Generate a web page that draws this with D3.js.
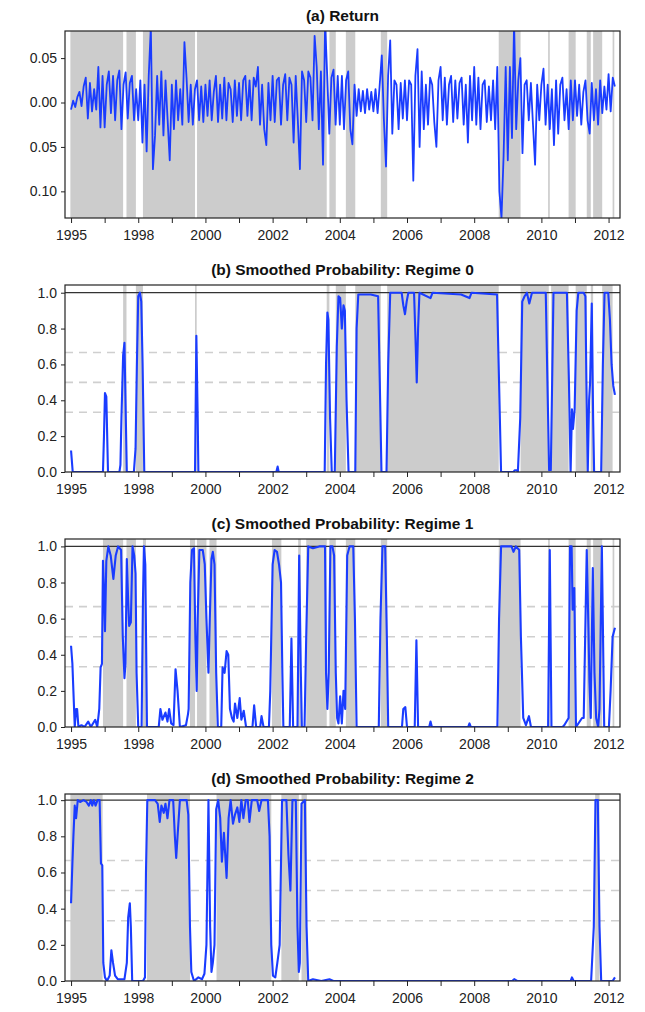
<!DOCTYPE html>
<html>
<head>
<meta charset="utf-8">
<script src="https://cdn.jsdelivr.net/npm/d3@7"></script>
<style>
  body { margin: 0; background: #fff; }
  svg { display: block; font-family: "Liberation Sans", Arial, sans-serif; }
</style>
</head>
<body>
<svg id="chart" width="645" height="1012"></svg>
<script>
// ---- x axis (decimal years) ----
var tickYears = d3.range(1996, 2013);
var labelYears = [1996, 1998, 2000, 2002, 2004, 2006, 2008, 2010, 2012];
var labelTexts = ["1995", "1998", "2000", "2002", "2004", "2006", "2008", "2010", "2012"];

// ---- panel (a) weekly-ish return, sampled every 1/16 year from 1996 ----
var retStart = 1996;
var retStep = 1 / 16;
var returns = [
  -0.008, 0.002, -0.005, 0.006, 0.012, -0.004, 0.018, 0.028, -0.018, 0.022, -0.01, 0.015, -0.008, 0.04, -0.028, 0.03,
  -0.028, 0.02, 0.035, -0.012, 0.03, -0.02, 0.025, 0.036, -0.03, 0.02, 0.034, -0.018, 0.022, 0.03, -0.02, 0.015,
  -0.02, 0.025, -0.045, 0.02, -0.055, 0.03, 0.085, -0.075, -0.037, 0.03, -0.025, 0.035, -0.037, 0.025, -0.02, -0.065,
  0.02, -0.03, 0.025, -0.02, 0.015, -0.025, 0.068, 0.028, -0.022, 0.02, -0.025, 0.015, 0.025, -0.02, 0.018, -0.022,
  0.02, -0.015, 0.025, -0.02, 0.012, 0.03, -0.022, 0.02, -0.018, 0.028, -0.02, 0.022, 0.015, -0.022, 0.025, -0.015,
  0.022, -0.02, 0.025, 0.03, -0.015, 0.025, -0.02, 0.028, 0.018, 0.04, -0.025, 0.02, -0.03, -0.048, 0.022, -0.02,
  0.03, -0.022, 0.025, 0.028, -0.025, 0.02, 0.032, -0.02, 0.028, 0.02, -0.045, 0.03, -0.02, -0.075, 0.035, 0.025,
  -0.022, 0.035, 0.028, -0.02, 0.075, 0.04, -0.03, 0.035, -0.07, 0.09, 0.03, -0.035, 0.028, 0.037, -0.025, 0.03,
  -0.025, 0.03, -0.03, 0.025, 0.035, -0.03, -0.047, 0.02, -0.015, 0.015, -0.01, 0.013, -0.012, 0.015, -0.008, 0.012,
  -0.01, 0.015, -0.012, 0.02, 0.053, -0.02, -0.072, 0.03, 0.07, -0.035, 0.025, 0.02, -0.03, 0.022, -0.018, 0.025,
  -0.02, 0.025, 0.02, -0.088, 0.03, 0.06, -0.05, 0.035, -0.03, 0.02, -0.025, 0.028, 0.02, -0.022, -0.05, 0.025,
  0.04, -0.02, 0.028, -0.025, 0.02, 0.03, -0.022, 0.025, -0.018, 0.022, 0.028, -0.025, 0.02, -0.045, 0.03, -0.02,
  0.04, -0.025, 0.028, -0.03, 0.02, 0.025, -0.022, 0.018, -0.02, 0.025, -0.03, 0.04, -0.1, -0.13, -0.06, 0.04,
  -0.065, 0.04, -0.04, 0.09, -0.03, 0.025, 0.05, -0.057, 0.02, 0.025, -0.02, 0.022, -0.025, -0.07, 0.02, -0.02,
  0.02, 0.038, -0.025, 0.02, -0.03, 0.015, -0.048, 0.025, -0.035, 0.02, 0.028, -0.02, 0.015, -0.03, 0.025, -0.02,
  0.025, -0.015, 0.02, -0.025, 0.012, 0.025, -0.02, -0.035, 0.022, -0.02, 0.015, -0.025, 0.025, -0.012, 0.018, -0.008,
  0.032, -0.01, 0.028, 0.018
];
var retTicks = [0.05, 0, -0.05, -0.10];

// ---- shaded regime periods [from, to] per panel ----
var bandsA = [[1995.98, 1997.55], [1997.65, 1997.93], [1998.14, 1999.69], [1999.75, 2003.61], [2003.69, 2003.88],
  [2004.18, 2004.46], [2005.22, 2005.41], [2008.73, 2009.38], [2010.20, 2010.25], [2010.81, 2011.02],
  [2011.35, 2011.47], [2011.54, 2011.81], [2012.12, 2012.17]];
var bandsB = [[1997.55, 1997.65], [1997.93, 1998.14], [1999.69, 1999.74], [2003.61, 2003.69], [2003.88, 2004.18],
  [2004.46, 2005.22], [2005.41, 2008.73], [2009.38, 2010.22], [2010.29, 2010.81], [2011.02, 2011.35],
  [2011.47, 2011.54], [2011.81, 2012.12]];
var bandsC = [[1996.95, 1997.55], [1997.65, 1997.93], [1998.14, 1998.23], [1999.54, 1999.69], [1999.75, 2000.03],
  [2000.12, 2000.33], [2001.98, 2002.26], [2002.76, 2002.84], [2003.0, 2003.61], [2003.69, 2003.88],
  [2004.18, 2004.46], [2005.22, 2005.41], [2008.73, 2009.38], [2010.20, 2010.25], [2010.81, 2011.02],
  [2011.35, 2011.47], [2011.54, 2011.81], [2012.12, 2012.17]];
var bandsD = [[1995.98, 1996.94], [1998.26, 1999.54], [2000.33, 2001.96], [2002.26, 2002.78], [2002.86, 2003.02],
  [2011.60, 2011.73]];

// ---- smoothed probabilities [year, p] ----
var prob0 = [[1996.0, 0.12], [1996.05, 0], [1996.95, 0], [1996.98, 0.2], [1997.01, 0.44], [1997.05, 0.42], [1997.10, 0],
  [1997.44, 0], [1997.47, 0.04], [1997.50, 0.3], [1997.55, 0.65], [1997.59, 0.72], [1997.63, 0.3], [1997.66, 0],
  [1997.87, 0], [1997.92, 0.13], [1997.96, 0.6], [1998.0, 0.98], [1998.05, 1.0], [1998.09, 0.95], [1998.13, 0.6],
  [1998.18, 0], [1999.69, 0], [1999.73, 0.76], [1999.77, 0.3], [1999.79, 0], [2002.11, 0], [2002.15, 0.03],
  [2002.18, 0], [2003.55, 0], [2003.59, 0.6], [2003.63, 0.89], [2003.66, 0.85], [2003.71, 0.3], [2003.76, 0],
  [2003.85, 0], [2003.91, 0.7], [2003.96, 0.98], [2004.01, 0.97], [2004.06, 0.8], [2004.11, 0.93], [2004.15, 0.9],
  [2004.20, 0.4], [2004.26, 0], [2004.46, 0], [2004.50, 0.8], [2004.55, 0.99], [2004.92, 0.99], [2005.14, 0.98],
  [2005.19, 0.5], [2005.24, 0], [2005.39, 0], [2005.44, 0.6], [2005.50, 1.0], [2005.84, 1.0], [2005.89, 0.93],
  [2005.94, 0.88], [2005.99, 0.95], [2006.04, 1.0], [2006.21, 1.0], [2006.26, 0.7], [2006.29, 0.5], [2006.33, 0.8],
  [2006.37, 1.0], [2006.70, 0.97], [2006.76, 1.0], [2007.61, 0.99], [2007.86, 0.97], [2007.92, 1.0], [2008.68, 0.99],
  [2008.74, 0.5], [2008.80, 0], [2009.17, 0], [2009.21, 0.01], [2009.27, 0.01], [2009.30, 0], [2009.37, 0.3],
  [2009.43, 0.95], [2009.50, 0.98], [2009.57, 1.0], [2009.64, 0.94], [2009.72, 1.0], [2010.13, 1.0], [2010.18, 0.5],
  [2010.23, 0.01], [2010.28, 0.01], [2010.32, 0.5], [2010.36, 1.0], [2010.76, 1.0], [2010.82, 0.5], [2010.87, 0],
  [2010.91, 0.35], [2010.94, 0.24], [2010.99, 0.35], [2011.05, 0.9], [2011.10, 1.0], [2011.26, 1.0], [2011.31, 0.98],
  [2011.34, 0.5], [2011.38, 0], [2011.42, 0.4], [2011.45, 0.5], [2011.50, 0.94], [2011.54, 0.3], [2011.57, 0],
  [2011.78, 0], [2011.83, 0.6], [2011.88, 1.0], [2011.99, 1.0], [2012.04, 0.85], [2012.09, 0.6], [2012.14, 0.48],
  [2012.19, 0.43]];

var prob1 = [[1996.0, 0.45], [1996.04, 0.35], [1996.07, 0.2], [1996.11, 0], [1996.15, 0.1], [1996.18, 0.1], [1996.22, 0],
  [1996.31, 0.01], [1996.40, 0], [1996.51, 0.03], [1996.59, 0], [1996.72, 0.04], [1996.78, 0], [1996.84, 0.1],
  [1996.88, 0.33], [1996.92, 0.35], [1996.95, 0.92], [1996.99, 0.7], [1997.01, 0.53], [1997.05, 0.92], [1997.11, 1.0],
  [1997.18, 0.95], [1997.26, 0.82], [1997.33, 0.95], [1997.40, 1.0], [1997.49, 0.98], [1997.54, 0.5], [1997.59, 0.27],
  [1997.62, 0.35], [1997.66, 0.93], [1997.70, 0.7], [1997.73, 0.56], [1997.78, 0.58], [1997.83, 1.0], [1997.88, 0.95],
  [1997.92, 0.85], [1997.95, 0.3], [1998.0, 0], [1998.10, 0], [1998.14, 0.7], [1998.17, 1.0], [1998.21, 0.9],
  [1998.26, 0], [1998.61, 0], [1998.66, 0.1], [1998.72, 0.04], [1998.81, 0.08], [1998.87, 0.03], [1998.92, 0.1],
  [1998.98, 0.02], [1999.05, 0.01], [1999.11, 0.32], [1999.17, 0.2], [1999.24, 0], [1999.42, 0.01], [1999.48, 0.07],
  [1999.50, 0.1], [1999.55, 0.8], [1999.60, 0.98], [1999.66, 0.99], [1999.70, 0.5], [1999.74, 0.2], [1999.77, 0.6],
  [1999.82, 0.98], [1999.92, 0.98], [1999.98, 0.9], [2000.03, 0.6], [2000.09, 0.3], [2000.13, 0.6], [2000.18, 0.93],
  [2000.22, 0.97], [2000.27, 0.9], [2000.32, 0.3], [2000.37, 0], [2000.47, 0], [2000.51, 0.33], [2000.57, 0.3],
  [2000.63, 0.42], [2000.68, 0.4], [2000.73, 0.1], [2000.79, 0.05], [2000.84, 0.03], [2000.88, 0.13], [2000.95, 0.05],
  [2001.02, 0.16], [2001.07, 0.04], [2001.14, 0.09], [2001.21, 0], [2001.40, 0], [2001.45, 0.12], [2001.51, 0],
  [2001.63, 0], [2001.67, 0.06], [2001.73, 0], [2001.89, 0], [2001.93, 0.2], [2002.0, 0.9], [2002.06, 0.98],
  [2002.13, 0.97], [2002.19, 0.9], [2002.25, 0.8], [2002.29, 0.3], [2002.32, 0], [2002.51, 0], [2002.56, 0.49],
  [2002.61, 0], [2002.74, 0], [2002.79, 0.95], [2002.84, 0.3], [2002.87, 0], [2002.95, 0], [2003.0, 0.5],
  [2003.06, 1.0], [2003.20, 0.99], [2003.39, 1.0], [2003.56, 1.0], [2003.59, 0.3], [2003.63, 0.1], [2003.67, 0.3],
  [2003.72, 1.0], [2003.78, 1.0], [2003.83, 0.95], [2003.88, 0.3], [2003.92, 0.05], [2003.96, 0.02], [2004.01, 0.17],
  [2004.06, 0.02], [2004.11, 0.2], [2004.16, 0.1], [2004.22, 0.95], [2004.29, 1.0], [2004.40, 1.0], [2004.45, 0.6],
  [2004.50, 0], [2005.16, 0], [2005.21, 0.6], [2005.27, 1.0], [2005.35, 1.0], [2005.40, 0.5], [2005.44, 0],
  [2005.85, 0], [2005.89, 0.1], [2005.95, 0.11], [2006.0, 0], [2006.23, 0], [2006.28, 0.48], [2006.33, 0],
  [2006.66, 0], [2006.70, 0.03], [2006.74, 0], [2007.82, 0], [2007.86, 0.02], [2007.90, 0], [2008.69, 0],
  [2008.74, 0.6], [2008.80, 1.0], [2009.11, 1.0], [2009.17, 0.97], [2009.24, 1.0], [2009.34, 0.98], [2009.39, 0.5],
  [2009.46, 0.05], [2009.54, 0.01], [2009.63, 0.06], [2009.69, 0], [2010.20, 0], [2010.25, 0.98], [2010.30, 0],
  [2010.63, 0], [2010.68, 0.01], [2010.81, 0.05], [2010.85, 1.0], [2010.90, 1.0], [2010.93, 0.65], [2010.98, 0.77],
  [2011.03, 0], [2011.21, 0.05], [2011.26, 0.05], [2011.35, 0.98], [2011.40, 0.55], [2011.43, 0.25], [2011.47, 0.05],
  [2011.53, 0.88], [2011.58, 0.3], [2011.63, 0.05], [2011.69, 0], [2011.73, 0.1], [2011.80, 1.0], [2011.87, 0],
  [2012.01, 0], [2012.06, 0.2], [2012.12, 0.5], [2012.19, 0.55]];

var prob2 = [[1996.0, 0.43], [1996.04, 0.65], [1996.07, 0.8], [1996.11, 0.97], [1996.15, 0.9], [1996.20, 1.0],
  [1996.27, 0.99], [1996.37, 1.0], [1996.46, 0.99], [1996.53, 0.97], [1996.59, 1.0], [1996.63, 0.97], [1996.68, 1.0],
  [1996.73, 0.97], [1996.79, 1.0], [1996.85, 1.0], [1996.89, 0.65], [1996.93, 0.64], [1996.96, 0.1], [1997.01, 0.02],
  [1997.07, 0], [1997.15, 0.03], [1997.20, 0.17], [1997.25, 0.1], [1997.31, 0.03], [1997.39, 0.01], [1997.59, 0.01],
  [1997.66, 0.1], [1997.70, 0.35], [1997.75, 0.43], [1997.78, 0.3], [1997.82, 0], [1998.14, 0], [1998.20, 0.02],
  [1998.23, 0.6], [1998.27, 1.0], [1998.50, 1.0], [1998.58, 0.98], [1998.64, 0.88], [1998.69, 0.97], [1998.76, 0.93],
  [1998.81, 0.98], [1998.87, 0.9], [1998.93, 1.0], [1999.04, 1.0], [1999.09, 0.8], [1999.13, 0.68], [1999.17, 0.8],
  [1999.24, 1.0], [1999.44, 1.0], [1999.49, 0.92], [1999.54, 0.3], [1999.58, 0.05], [1999.66, 0], [1999.79, 0.02],
  [1999.90, 0.01], [1999.97, 0.04], [2000.03, 0.2], [2000.09, 1.0], [2000.14, 0.3], [2000.18, 0.05], [2000.22, 0.1],
  [2000.27, 0.2], [2000.32, 0.95], [2000.38, 1.0], [2000.44, 0.9], [2000.49, 0.66], [2000.55, 0.82], [2000.63, 0.57],
  [2000.69, 0.9], [2000.75, 1.0], [2000.82, 0.87], [2000.88, 0.92], [2000.95, 0.96], [2001.01, 0.88], [2001.07, 1.0],
  [2001.13, 0.9], [2001.20, 1.0], [2001.26, 1.0], [2001.31, 0.88], [2001.38, 1.0], [2001.54, 1.0], [2001.60, 0.94],
  [2001.67, 1.0], [2001.86, 1.0], [2001.91, 0.8], [2001.96, 0.2], [2002.01, 0.03], [2002.08, 0.02], [2002.14, 0.1],
  [2002.21, 0.2], [2002.28, 1.0], [2002.41, 1.0], [2002.47, 0.7], [2002.53, 0.5], [2002.59, 1.0], [2002.69, 1.0],
  [2002.74, 0.3], [2002.78, 0.05], [2002.81, 0.1], [2002.86, 0.98], [2002.96, 1.0], [2003.01, 0.3], [2003.06, 0],
  [2003.20, 0.01], [2003.45, 0], [2003.69, 0.01], [2003.81, 0], [2009.13, 0], [2009.19, 0.01], [2009.28, 0],
  [2010.87, 0], [2010.91, 0.02], [2010.96, 0], [2011.48, 0], [2011.56, 0.3], [2011.61, 1.0], [2011.68, 1.0],
  [2011.73, 0.3], [2011.78, 0], [2012.12, 0], [2012.19, 0.02]];

var probTicks = [0, 0.2, 0.4, 0.6, 0.8, 1.0];
var probGuides = [1 / 3, 0.5, 2 / 3];

// ---- layout ----
var left = 65, right = 620;
var blue = "#1a3cff", shade = "#cccccc";

var svg = d3.select("#chart");
svg.append("rect").attr("width", 645).attr("height", 1012).attr("fill", "#fff");

var x = d3.scaleLinear().domain([1995.82, 2012.34]).range([left, right]);

var panels = [
  { id: "a", title: "(a) Return", top: 31, bottom: 218, domain: [-0.13, 0.0805], bands: bandsA },
  { id: "b", title: "(b) Smoothed Probability: Regime 0", top: 285, bottom: 472, domain: [0, 1.043], bands: bandsB, prob: prob0 },
  { id: "c", title: "(c) Smoothed Probability: Regime 1", top: 539, bottom: 727, domain: [0, 1.041], bands: bandsC, prob: prob1 },
  { id: "d", title: "(d) Smoothed Probability: Regime 2", top: 794, bottom: 981, domain: [0, 1.034], bands: bandsD, prob: prob2 }
];

panels.forEach(function (p) {
  var y = d3.scaleLinear().domain(p.domain).range([p.bottom, p.top]);
  var g = svg.append("g");

  g.append("clipPath").attr("id", "clip-" + p.id)
    .append("rect").attr("x", left).attr("y", p.top)
    .attr("width", right - left).attr("height", p.bottom - p.top);

  var plot = g.append("g").attr("clip-path", "url(#clip-" + p.id + ")");

  // dashed guides go under the shading
  if (p.prob) {
    plot.selectAll("line.guide").data(probGuides).join("line")
      .attr("class", "guide")
      .attr("x1", left).attr("x2", right)
      .attr("y1", d => y(d)).attr("y2", d => y(d))
      .attr("stroke", "#cfcfcf").attr("stroke-width", 1.6)
      .attr("stroke-dasharray", "8,6");
  }

  plot.selectAll("rect.band").data(p.bands).join("rect")
    .attr("class", "band")
    .attr("x", d => x(d[0]))
    .attr("width", d => Math.max(1, x(d[1]) - x(d[0])))
    .attr("y", p.top).attr("height", p.bottom - p.top)
    .attr("fill", shade);

  if (p.prob) {
    plot.append("line")
      .attr("x1", left).attr("x2", right)
      .attr("y1", y(1)).attr("y2", y(1))
      .attr("stroke", "#333").attr("stroke-width", 1.2);

    plot.append("path").datum(p.prob)
      .attr("fill", "none").attr("stroke", blue).attr("stroke-width", 2.1)
      .attr("stroke-linejoin", "round")
      .attr("d", d3.line().x(d => x(d[0])).y(d => y(d[1])));
  } else {
    plot.append("path").datum(returns)
      .attr("fill", "none").attr("stroke", blue).attr("stroke-width", 1.8)
      .attr("stroke-linejoin", "round")
      .attr("d", d3.line().x((d, i) => x(retStart + i * retStep)).y(d => y(d)));
  }

  // frame
  g.append("rect")
    .attr("x", left).attr("y", p.top)
    .attr("width", right - left).attr("height", p.bottom - p.top)
    .attr("fill", "none").attr("stroke", "#222").attr("stroke-width", 1.2);

  // y axis
  var yAxis = d3.axisLeft(y).tickSize(4).tickPadding(4);
  if (p.prob) {
    yAxis.tickValues(probTicks).tickFormat(d3.format(".1f"));
  } else {
    yAxis.tickValues(retTicks).tickFormat(d => Math.abs(d).toFixed(2));
  }
  var ya = g.append("g").attr("transform", "translate(" + left + ",0)").call(yAxis);
  ya.select(".domain").remove();
  ya.selectAll("text").attr("font-size", 14).attr("fill", "#222").attr("font-family", "Liberation Sans, Arial, sans-serif");
  ya.selectAll("line").attr("stroke", "#222");

  // x axis
  var xAxis = d3.axisBottom(x).tickValues(tickYears).tickSize(5).tickPadding(7)
    .tickFormat(d => {
      var k = labelYears.indexOf(d);
      return k >= 0 ? labelTexts[k] : "";
    });
  var xa = g.append("g").attr("transform", "translate(0," + p.bottom + ")").call(xAxis);
  xa.select(".domain").remove();
  xa.selectAll("text").attr("font-size", 14).attr("fill", "#222").attr("font-family", "Liberation Sans, Arial, sans-serif");
  xa.selectAll("line").attr("stroke", "#222");

  // title
  g.append("text")
    .attr("x", (left + right) / 2).attr("y", p.top - 10)
    .attr("text-anchor", "middle")
    .attr("font-size", 15.5).attr("font-weight", "bold").attr("fill", "#111")
    .text(p.title);
});
</script>
</body>
</html>
